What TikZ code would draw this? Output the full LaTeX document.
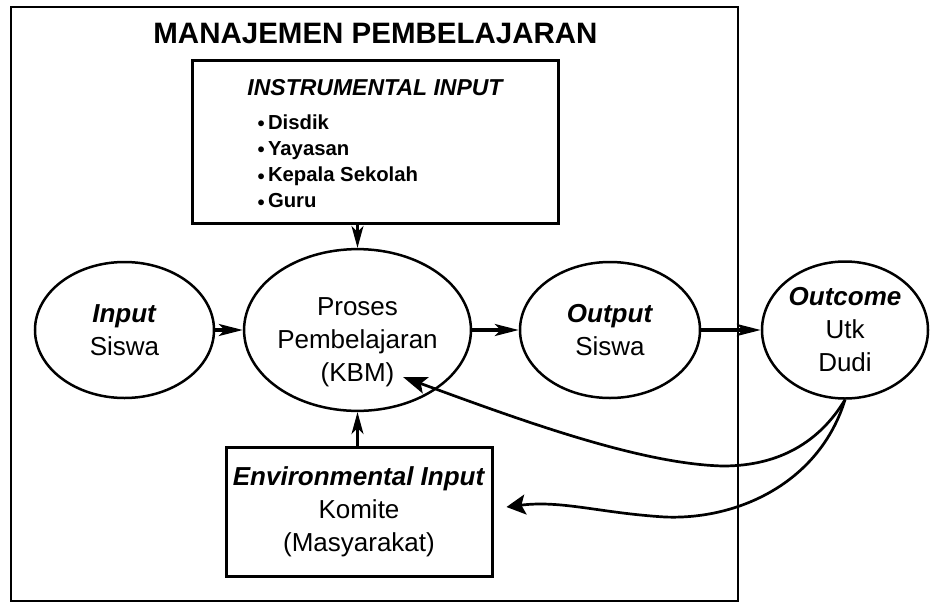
\documentclass[tikz,border=0pt]{standalone}
\usepackage{fontspec}
\setmainfont{Liberation Sans}
\usetikzlibrary{positioning, arrows.meta, shapes.geometric, calc}

\begin{document}
\begin{tikzpicture}[%
		x=1pt,
		y=-1pt,
		stage/.style={
			ellipse,
			minimum width=179pt,
			minimum height=136pt,
			inner sep=0pt,
			line width=2.5pt,
			align=center,
			font=\fontsize{26}{33}\selectfont,
			draw
		},
		inputbox/.style={
			rectangle,
			line width=3pt,
			inner sep=0pt,
			align=center,
			font=\fontsize{26}{33}\selectfont,
			draw
		},
		frame/.style={
			line width=2.7pt
		},
		headtext/.style={
			anchor=base,
			font=\bfseries\itshape\fontsize{23}{28}\selectfont
		},
		itemtext/.style={
			anchor=base west,
			font=\bfseries\fontsize{20.3}{26}\selectfont
		},
		flowarrow/.style={
			line width=3.3pt,
			-{Stealth[length=24pt,width=12pt,inset=6pt]}
		},
		droparrow/.style={
			line width=2.5pt,
			-{Stealth[length=22pt,width=12pt,inset=6pt]}
		},
		feedback/.style={
			line width=2.7pt,
			-{Stealth[length=24pt,width=17pt,inset=5pt]}
		},
		feedbackwide/.style={
			line width=2.7pt,
			-{Stealth[length=19pt,width=20pt,inset=4pt]}
		}]

		\useasboundingbox (0,0) rectangle (930,603);

		% FRAME AND TITLE

		\draw[frame] (11,7) rectangle (738,601);
		\node (title) [anchor=base, font=\bfseries\fontsize{29.5}{35}\selectfont] at (375.5,43) {MANAJEMEN PEMBELAJARAN};

		% INSTRUMENTAL INPUT

		\node (instrbox) [inputbox, minimum width=366pt, minimum height=163pt] at (375,141.5) {};
		\node (instrhead) [headtext] at (375,95) {INSTRUMENTAL INPUT};
		\foreach \entry [count=\i] in {Disdik, Yayasan, Kepala Sekolah, Guru}
			\node (item\i) [itemtext] at (254,{129+26.3*(\i-1)}) {\raisebox{-1.5pt}{•}\,\entry};

		% STAGES

		\node (input) [stage] at (124.5,330) {\textbf{\textit{Input}}\\Siswa};
		\node (proses) [stage] at (357.5,330) {\rule{0pt}{43pt}Proses\\Pembelajaran\\(KBM)};
		\node (output) [stage, minimum width=180pt] at (610,330) {\textbf{\textit{Output}}\\Siswa};
		\node (outcome) [stage, minimum width=166pt, minimum height=137pt] at (845,330) {\textbf{\textit{Outcome}}\\Utk\\Dudi};

		% ENVIRONMENTAL INPUT

		\node (envbox) [inputbox, minimum width=266pt, minimum height=129pt] at (359,511.5) {\textbf{\textit{Environmental Input}}\\Komite\\(Masyarakat)};

		% LINES

		\draw[flowarrow] (input.east) -- (proses.west);
		\draw[flowarrow] (proses.east) -- (output.west);
		\draw[flowarrow] (output.east) -- (outcome.west);

		\draw[droparrow] (instrbox.south -| proses.north) -- (proses.north);
		\draw[droparrow] (envbox.north -| proses.south) -- (proses.south);

		% FEEDBACK LINES

		\coordinate (kbmtip) at ($(proses.center)+(45.5,47)$);
		\coordinate (envtip) at ($(envbox.east)+(13,-4.5)$);
		\coordinate (dip1) at (723,466);
		\coordinate (dip2) at (665,517);

		\draw[feedback] (outcome.south) .. controls +(-25,41.5) and +(57,0) .. (dip1) .. controls +(-83,-2) and +(117,43) .. (kbmtip);
		\draw[feedbackwide] (outcome.south) .. controls +(-25,81.5) and +(75,3) .. (dip2) .. controls +(-65,-4) and +(55,-7) .. (envtip);
\end{tikzpicture}
\end{document}
